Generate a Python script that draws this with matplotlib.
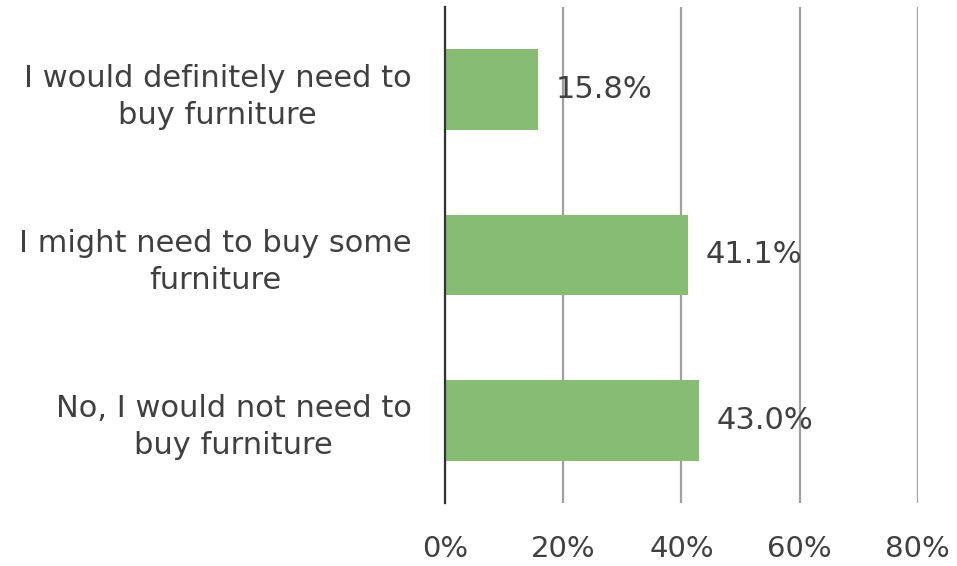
import matplotlib.pyplot as plt

# survey answers (top to bottom as shown)
categories = ['I would definitely need to\nbuy furniture',
              'I might need to buy some\nfurniture',
              'No, I would not need to\nbuy furniture']
shares = [15.8, 41.1, 43.0]
tick_values = [0, 20, 40, 60, 80]
tick_labels = ['0%', '20%', '40%', '60%', '80%']

text_color = '#404040'
plt.rcParams['font.family'] = 'DejaVu Sans'

fig = plt.figure(figsize=(9.57, 5.66), dpi=100)
ax = fig.add_axes([0.465, 0.112, 0.494, 0.875])

ypos = list(range(len(categories)))
ax.barh(ypos, shares, height=0.49, color='#86BC74', zorder=3)
ax.set_ylim(len(categories) - 0.5, -0.5)
ax.set_xlim(0, 80)

ax.set_xticks(tick_values)
ax.set_xticklabels(tick_labels, fontsize=21, color=text_color)
ax.set_yticks(ypos)
ax.set_yticklabels(categories, fontsize=22, color=text_color,
                   linespacing=1.36, multialignment='center')
ax.tick_params(axis='x', length=0, pad=23)
ax.tick_params(axis='y', length=0, pad=24)

ax.grid(axis='x', color='#A0A0A0', linewidth=1.6, zorder=0)
for s in ['top', 'right', 'bottom']:
    ax.spines[s].set_visible(False)
ax.spines['left'].set_color('#333333')
ax.spines['left'].set_linewidth(1.6)
ax.spines['left'].set_zorder(4)

for y, v in zip(ypos, shares):
    ax.text(v + 3, y, f'{v:.1f}%', va='center', ha='left',
            fontsize=22, color=text_color, zorder=5)

fig.savefig('out.png', dpi=100)
